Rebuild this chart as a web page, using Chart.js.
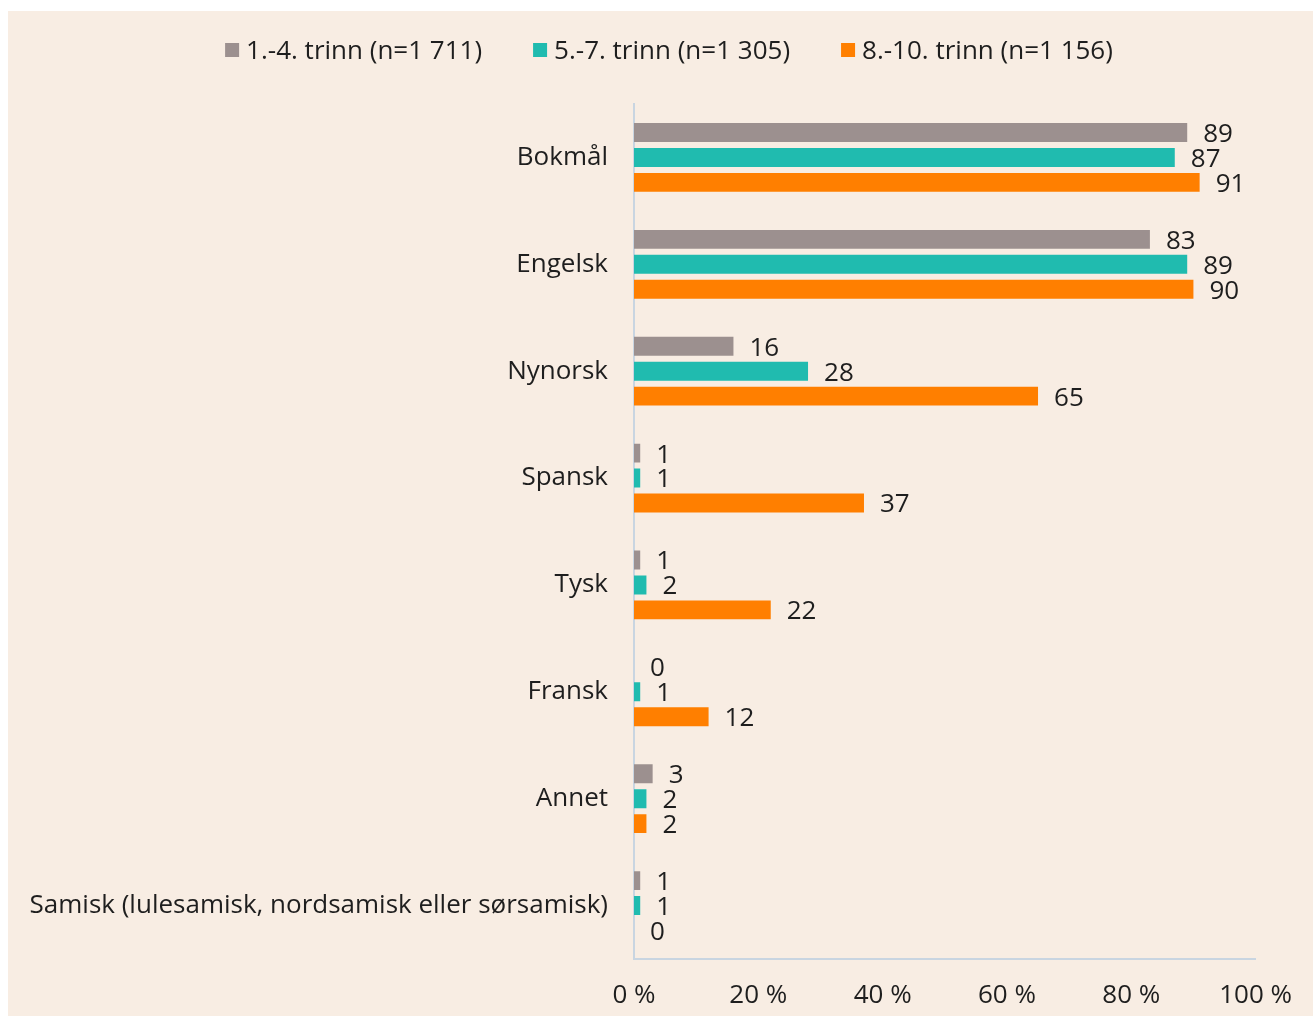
<!DOCTYPE html>
<html><head><meta charset="utf-8">
<script src="https://cdn.jsdelivr.net/npm/chart.js@4"></script>
<style>
html,body{margin:0;padding:0;background:#fff;}
#wrap{position:absolute;left:8px;top:11px;width:1305px;height:1005px;background:#F8EDE3;}
canvas{display:block;}
</style></head><body>
<div id="wrap"><canvas id="c" width="1305" height="1005"></canvas></div>
<script>
const categories = ["Bokmål","Engelsk","Nynorsk","Spansk","Tysk","Fransk","Annet","Samisk (lulesamisk, nordsamisk eller sørsamisk)"];
const seriesLabels = ["1.-4. trinn (n=1 711)","5.-7. trinn (n=1 305)","8.-10. trinn (n=1 156)"];
const grade1to4 = [89,83,16,1,1,0,3,1];
const grade5to7 = [87,89,28,1,2,1,2,1];
const grade8to10 = [91,90,65,37,22,12,2,0];
const seriesColors = ["#9C908F","#20BBAF","#FF7F00"];
const xTickValues = [0,20,40,60,80,100];

const FONT = '"Open Sans", sans-serif';
const FS = 26;
const TXT = '#1E1E1E';

const legendPlugin = {
  id:'customLegend',
  afterDraw(chart){
    const ctx = chart.ctx;
    ctx.save();
    ctx.font = FS + 'px ' + FONT;
    const box = 14, gapBT = 7, gapItems = 51;
    const items = chart.data.datasets.map(d => ({text:d.label, color:d.backgroundColor, w:ctx.measureText(d.label).width}));
    let total = items.reduce((s,it)=>s+box+gapBT+it.w,0) + gapItems*(items.length-1);
    let x = 661 - total/2;
    const y = 39;
    ctx.textBaseline = 'middle';
    ctx.textAlign = 'left';
    items.forEach(it => {
      ctx.fillStyle = it.color;
      ctx.fillRect(x, y-7, box, box);
      ctx.fillStyle = TXT;
      ctx.fillText(it.text, x+box+gapBT, y+2);
      x += box + gapBT + it.w + gapItems;
    });
    ctx.restore();
  }
};

const valueLabels = {
  id:'valueLabels',
  afterDatasetsDraw(chart){
    const ctx = chart.ctx;
    ctx.save();
    ctx.font = FS + 'px ' + FONT;
    ctx.fillStyle = TXT;
    ctx.textBaseline = 'middle';
    ctx.textAlign = 'left';
    chart.data.datasets.forEach((ds,i) => {
      const meta = chart.getDatasetMeta(i);
      meta.data.forEach((el,j) => {
        ctx.fillText(String(ds.data[j]), el.x + 16, el.y + 2);
      });
    });
    ctx.restore();
  }
};

const allSeries = [grade1to4, grade5to7, grade8to10];

new Chart(document.getElementById('c'), {
  type:'bar',
  data:{
    labels: categories,
    datasets: allSeries.map((d,i)=>({
      label: seriesLabels[i],
      data: d,
      backgroundColor: seriesColors[i],
      borderWidth: 0,
      categoryPercentage: 0.70,
      barPercentage: 0.76
    }))
  },
  options:{
    indexAxis:'y',
    responsive:false,
    animation:false,
    devicePixelRatio:1,
    layout:{padding:{top:93,right:51,bottom:0,left:0}},
    plugins:{legend:{display:false}, tooltip:{enabled:false}},
    scales:{
      x:{
        min:0, max:100,
        afterBuildTicks(scale){ scale.ticks = xTickValues.map(v=>({value:v})); },
        afterFit(scale){ scale.height = 57; },
        grid:{display:false, drawTicks:false},
        border:{display:true, color:'#C9D5E1', width:2},
        ticks:{ padding:21, color:TXT, font:{family:FONT, size:FS}, callback:v=>v+' %', maxRotation:0, autoSkip:false }
      },
      y:{
        afterFit(scale){ scale.width = 626; },
        grid:{display:false, drawTicks:false},
        border:{display:true, color:'#C9D5E1', width:2},
        ticks:{ padding:26, color:TXT, font:{family:FONT, size:FS}, autoSkip:false }
      }
    }
  },
  plugins:[legendPlugin, valueLabels]
});
</script>
</body></html>
